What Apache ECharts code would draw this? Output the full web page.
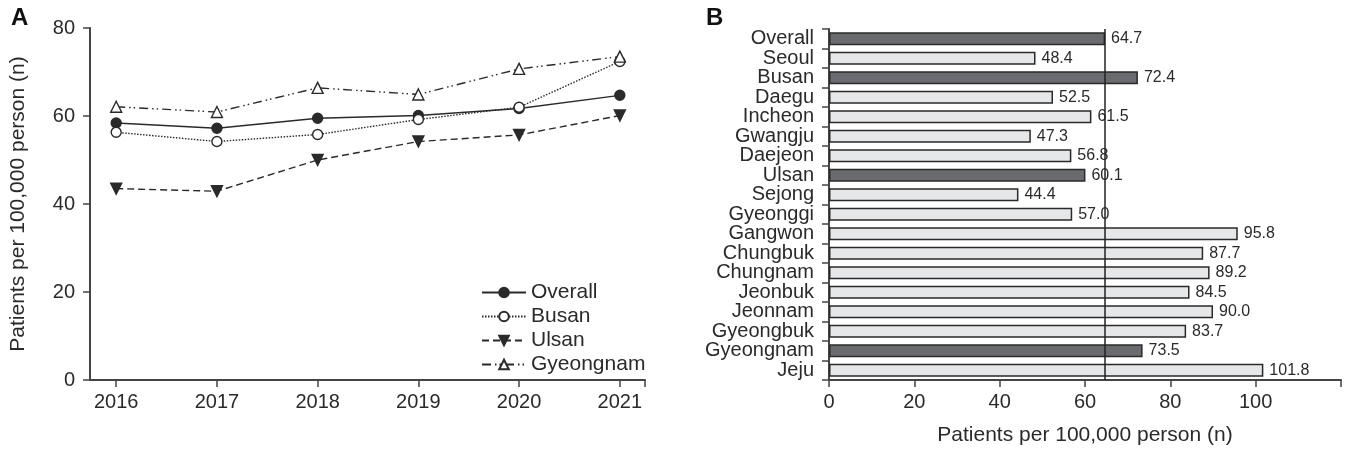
<!DOCTYPE html>
<html>
<head>
<meta charset="utf-8">
<style>
  html, body { margin: 0; padding: 0; background: #fff; }
  #ech { width: 1351px; height: 452px; }
</style>
<script src="https://cdn.jsdelivr.net/npm/echarts@6/dist/echarts.min.js"></script>
</head>
<body>
<div id="ech"></div>
<script>
// panel A data
var years = [2016, 2017, 2018, 2019, 2020, 2021];
var overallTrend = [58.4, 57.2, 59.5, 60.1, 61.7, 64.7];
var busanTrend = [56.3, 54.2, 55.8, 59.2, 62.0, 72.4];
var ulsanTrend = [43.5, 42.9, 50.0, 54.2, 55.7, 60.1];
var gyeongnamTrend = [62.1, 60.9, 66.4, 64.9, 70.7, 73.5];
var yTicksA = [0, 20, 40, 60, 80];

// panel B data
var regions = ["Overall", "Seoul", "Busan", "Daegu", "Incheon", "Gwangju", "Daejeon", "Ulsan", "Sejong",
	"Gyeonggi", "Gangwon", "Chungbuk", "Chungnam", "Jeonbuk", "Jeonnam", "Gyeongbuk", "Gyeongnam", "Jeju"];
var rates = [64.7, 48.4, 72.4, 52.5, 61.5, 47.3, 56.8, 60.1, 44.4, 57.0, 95.8, 87.7, 89.2, 84.5, 90.0, 83.7, 73.5, 101.8];
var highlighted = ["Overall", "Busan", "Ulsan", "Gyeongnam"];
var xTicksB = [0, 20, 40, 60, 80, 100];

var ink = '#2a2a2a';
var axisInk = '#444';
var font = '"Liberation Sans", Arial, sans-serif';

function pairs(vals) {
	return years.map(function (y, i) { return [y, vals[i]]; });
}

function lineSeries(name, vals, symbol, size, fill, dash, rotate) {
	return {
		name: name,
		type: 'line',
		xAxisIndex: 0,
		yAxisIndex: 0,
		data: pairs(vals),
		symbol: symbol,
		symbolSize: size,
		symbolRotate: rotate || 0,
		showAllSymbol: true,
		lineStyle: { color: ink, width: 1.4, type: dash },
		itemStyle: { color: fill, borderColor: ink, borderWidth: 1.4 },
		emphasis: { disabled: true }
	};
}

var myChart = echarts.init(document.getElementById('ech'));

var option = {
	animation: false,
	textStyle: { fontFamily: font, color: ink },
	graphic: [
		{ type: 'text', left: 11, top: 6, style: { text: 'A', font: 'bold 24px ' + font, fill: '#111' } },
		{ type: 'text', left: 706, top: 6, style: { text: 'B', font: 'bold 24px ' + font, fill: '#111' } }
	],
	legend: {
		orient: 'vertical',
		left: 476,
		top: 277,
		itemWidth: 44,
		itemHeight: 12,
		itemGap: 3,
		textStyle: { fontSize: 21, color: ink, fontFamily: font },
		data: ['Overall', 'Busan', 'Ulsan', 'Gyeongnam']
	},
	grid: [
		{ left: 90, right: 706, top: 28, bottom: 72 },
		{ left: 829, right: 10, top: 29, bottom: 72 }
	],
	xAxis: [
		{
			gridIndex: 0,
			type: 'value',
			min: 2015.74,
			max: 2021.25,
			splitLine: { show: false },
			axisLine: { show: true, lineStyle: { color: axisInk, width: 2 } },
			axisTick: { show: true, length: 7, customValues: years.concat([2021.25]), lineStyle: { color: axisInk, width: 1.5 } },
			axisLabel: {
				customValues: years, margin: 12, fontSize: 20, color: ink, fontFamily: font,
				formatter: function (v) { return String(v); }
			}
		},
		{
			gridIndex: 1,
			type: 'value',
			min: 0,
			max: 120,
			interval: 20,
			name: 'Patients per 100,000 person (n)',
			nameLocation: 'middle',
			nameGap: 45,
			nameTextStyle: { fontSize: 21, color: ink, fontFamily: font },
			splitLine: { show: false },
			axisLine: { show: true, lineStyle: { color: axisInk, width: 2 } },
			axisTick: { show: true, length: 7, lineStyle: { color: axisInk, width: 1.5 } },
			axisLabel: {
				margin: 12, fontSize: 20, color: ink, fontFamily: font,
				formatter: function (v) { return xTicksB.indexOf(v) >= 0 ? String(v) : ''; }
			}
		}
	],
	yAxis: [
		{
			gridIndex: 0,
			type: 'value',
			min: yTicksA[0],
			max: yTicksA[yTicksA.length - 1],
			interval: 20,
			name: 'Patients per 100,000 person (n)',
			nameLocation: 'middle',
			nameGap: 61,
			nameTextStyle: { fontSize: 21, color: ink, fontFamily: font },
			splitLine: { show: false },
			axisLine: { show: true, lineStyle: { color: axisInk, width: 2 } },
			axisTick: { show: true, length: 7, lineStyle: { color: axisInk, width: 1.5 } },
			axisLabel: { margin: 15, fontSize: 20, color: ink, fontFamily: font }
		},
		{
			gridIndex: 1,
			type: 'category',
			inverse: true,
			data: regions,
			axisLine: { show: true, lineStyle: { color: axisInk, width: 2 } },
			axisTick: { show: true, length: 7, lineStyle: { color: axisInk, width: 1.5 } },
			axisLabel: { interval: 0, margin: 15, fontSize: 20, color: ink, fontFamily: font, lineHeight: 19 }
		}
	],
	series: [
		lineSeries('Overall', overallTrend, 'circle', 10, ink, 'solid'),
		lineSeries('Busan', busanTrend, 'circle', 10, '#fff', [1.5, 1.5]),
		lineSeries('Ulsan', ulsanTrend, 'triangle', 11, ink, [7, 4], 180),
		lineSeries('Gyeongnam', gyeongnamTrend, 'triangle', 11, '#fff', [9, 4, 1.5, 3, 1.5, 4]),
		{
			name: 'rate',
			type: 'bar',
			xAxisIndex: 1,
			yAxisIndex: 1,
			barCategoryGap: '34%',
			data: regions.map(function (r, i) {
				var dark = highlighted.indexOf(r) >= 0;
				return {
					value: rates[i],
					itemStyle: { color: dark ? '#6a6b6e' : '#e6e7e8' }
				};
			}),
			itemStyle: { borderColor: '#2a2a2a', borderWidth: 1.5 },
			label: {
				show: true,
				position: 'right',
				distance: 6,
				fontSize: 16,
				color: ink,
				fontFamily: font,
				formatter: function (p) { return p.value.toFixed(1); }
			},
			emphasis: { disabled: true },
			markLine: {
				silent: true,
				symbol: 'none',
				z: 10,
				label: { show: false },
				lineStyle: { color: '#222', width: 1.5, type: 'solid' },
				data: [{ xAxis: rates[0] }]
			}
		}
	]
};

myChart.setOption(option);
</script>
</body>
</html>
